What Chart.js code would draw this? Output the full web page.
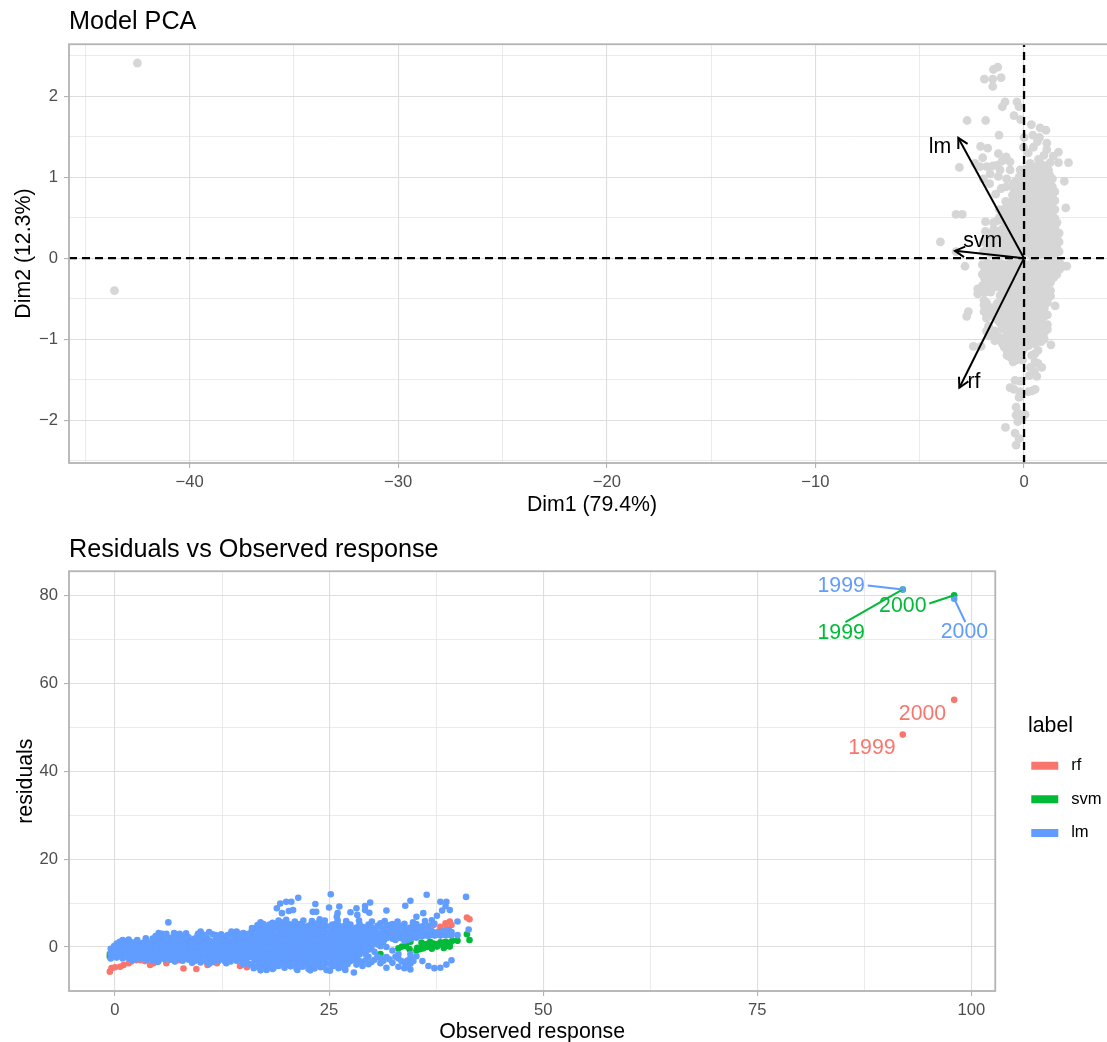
<!DOCTYPE html>
<html><head><meta charset="utf-8">
<style>
html,body{margin:0;padding:0;background:#fff;overflow:hidden;width:1107px;height:1042px}
canvas{position:absolute;left:0}
#c1{top:0}#c2{top:520px}
</style>
<script src="https://cdn.jsdelivr.net/npm/chart.js@4"></script>
</head><body>
<canvas id="c1" width="1115" height="520"></canvas>
<canvas id="c2" width="1107" height="525"></canvas>
<script>
// ---------- Model PCA values ----------
const pcaXMajor=[-40,-30,-20,-10,0];
const pcaXMinor=[-45,-35,-25,-15,-5];
const pcaYMajor=[-2,-1,0,1,2];
const pcaYMinor=[-2.5,-1.5,-0.5,0.5,1.5,2.5];
const pcaOutliers=[[-42.5,2.41],[-43.6,-0.4]];
const pcaUpperScatter=[[-1.26,2.36],[-1.47,2.33],[-1.9,2.21],[-1.5,2.21],[-1.1,2.23],[-1.5,2.12],[-0.91,1.93],[-1.04,1.87],[-0.34,1.93],[-0.24,1.87],[-0.48,1.76],[-0.16,1.71],[-2.73,1.7],[-1.84,1.7],[0.35,1.65],[0.77,1.61],[1.05,1.58],[-1.2,1.52],[0,1.49],[0.42,1.52],[0.74,1.49],[1.09,1.42],[0.64,1.44],[-0.03,1.37],[0.45,1.37],[1.09,1.34],[1.65,1.31],[-2.08,1.38],[-1.74,1.36],[-1.23,1.29],[-0.86,1.25],[-1.98,1.24],[-0.67,1.19],[-1.28,1.15],[2.13,1.18],[1.65,1.18],[1.25,1.18],[0.69,1.22],[-3.1,1.12],[-2.35,1.17],[-2.11,1.13],[-1.79,1.13],[-1.15,1.09],[-0.67,1.09],[-0.19,1.09],[0.29,1.17],[0.77,1.17],[1.17,1.09],[-1.63,1.04],[-1.23,1.01],[-1.95,0.98],[-0.83,0.98],[1.93,0.95],[-1.36,0.79],[-0.86,0.88],[-0.51,0.92],[-3.26,0.54],[-2.96,0.54],[2,0.62],[-1.85,0.45],[-1.47,0.44],[-1.85,0.33],[-4.01,0.2],[-3.26,0.08],[0.2,1.3],[0.95,1.27],[1.4,1.26],[-1.5,1.14],[-1.05,1.2],[-1.65,0.92],[-1.1,0.86]];
const pcaLowerScatter=[[-2.83,-0.1],[1.9,-0.1],[2.05,-0.1],[-2.67,-0.66],[-2.75,-0.72],[1.49,-0.59],[-2.43,-1.09],[-2.06,-1.09],[1.29,-1.07],[0.85,-1.35],[0.61,-1.46],[0.3,-1.35],[0.5,-1.4],[0.25,-1.45],[-0.43,-1.51],[-0.19,-1.52],[-0.67,-1.6],[-0.48,-1.62],[-0.19,-1.65],[0.21,-1.65],[0.53,-1.62],[0.38,-1.64],[-0.24,-1.72],[-0.38,-1.84],[-0.38,-1.94],[0.05,-1.93],[-0.3,-2.02],[-0.89,-2.09],[-0.43,-2.16],[-0.24,-2.23],[-0.38,-2.31],[-0.1,-1.98],[-0.25,-1.92]];
const pcaColumns=[
[-1.95,[0.08,0.2]],[-1.6,[0.05,0.17,0.3]],[-1.3,[0.06,0.16,0.28,0.46]],
[-1.05,[0.05,0.15,0.26,0.36,0.47,0.58]],[-0.72,[0.06,0.16,0.27,0.37,0.47,0.57,0.66]],
[-0.4,[0.03,0.13,0.23,0.33,0.43,0.53,0.63,0.73,0.83,0.95]],
[-0.08,[0.05,0.15,0.25,0.35,0.45,0.55,0.65,0.75,0.85,0.95,1.05]],
[0.25,[0.06,0.16,0.26,0.36,0.46,0.56,0.66,0.76,0.86,0.96,1.06]],
[0.58,[0.04,0.14,0.24,0.34,0.44,0.54,0.64,0.74,0.84,0.94,1.04,1.13]],
[0.9,[0.05,0.15,0.25,0.35,0.45,0.55,0.65,0.75,0.85,0.95,1.05,1.15]],
[1.22,[0.03,0.13,0.23,0.33,0.43,0.53,0.63,0.73,0.83,0.93,1.03]],
[1.48,[0.05,0.16,0.27,0.38,0.49,0.6,0.71,0.82]],[1.68,[0.08,0.2,0.31]],
[-2.0,[-0.08,-0.2,-0.34]],[-2.22,[-0.38,-0.44]],[-1.75,[-0.06,-0.16,-0.26,-0.36]],[-1.92,[-0.52,-0.58,-0.66]],
[-1.45,[-0.07,-0.17,-0.27,-0.36,-0.62,-0.72]],[-1.15,[-0.06,-0.16,-0.26,-0.36,-0.46,-0.8,-0.98]],
[-1.7,[-0.6,-0.68,-0.84,-0.96]],[-1.4,[-1.02,-0.9]],[-0.95,[-0.08,-0.18,-0.28,-0.38,-0.48,-0.58,-0.68,-0.78,-1.0,-1.1]],
[-0.68,[-0.06,-0.16,-0.26,-0.36,-0.46,-0.56,-0.66,-0.76,-0.86,-0.96,-1.06,-1.14,-1.22]],
[-0.38,[-0.07,-0.17,-0.27,-0.37,-0.47,-0.57,-0.67,-0.77,-0.87,-0.97,-1.07,-1.17,-1.26]],
[-0.08,[-0.05,-0.15,-0.25,-0.35,-0.45,-0.55,-0.65,-0.75,-0.85,-0.95,-1.05,-1.15,-1.26]],
[0.22,[-0.08,-0.18,-0.28,-0.38,-0.48,-0.58,-0.68,-0.78,-0.88,-0.98,-1.08]],
[0.52,[-0.06,-0.16,-0.26,-0.36,-0.46,-0.56,-0.66,-0.76,-0.86,-0.96,-1.06,-1.18,-1.28]],
[0.82,[-0.07,-0.17,-0.27,-0.37,-0.47,-0.57,-0.67,-0.77,-0.87,-0.97,-1.03]],
[1.12,[-0.05,-0.15,-0.25,-0.35,-0.45,-0.55,-0.7,-0.82,-0.88]],
[1.42,[-0.06,-0.16,-0.24]],[1.7,[-0.05,-0.14]]
];
const pcaColumnsFill=[
[-1.78,[0.12,0.26]],[-1.45,[0.11,0.23,0.36]],[-1.18,[0.1,0.21,0.33,0.5,0.6]],[-0.88,[0.1,0.2,0.31,0.42,0.52,0.62,0.7]],
[-0.56,[0.1,0.21,0.32,0.42,0.52,0.62,0.7,0.78,0.88]],[-0.24,[0.08,0.18,0.28,0.38,0.48,0.58,0.68,0.78,0.88,1]],
[0.08,[0.1,0.2,0.3,0.4,0.5,0.6,0.7,0.8,0.9,1,1.1]],[0.42,[0.01,0.11,0.21,0.31,0.41,0.51,0.61,0.71,0.81,0.91,1.01,1.11]],
[0.74,[0.09,0.19,0.29,0.39,0.49,0.59,0.69,0.79,0.89,0.99,1.09]],[1.06,[0.1,0.2,0.3,0.4,0.5,0.6,0.7,0.8,0.9,1,1.1]],
[1.36,[0.08,0.18,0.28,0.38,0.48,0.58,0.68,0.78,0.88,0.98]],[1.58,[0.12,0.24,0.44]],
[-1.88,[-0.14,-0.26,-0.42]],[-1.6,[-0.11,-0.21,-0.31,-0.42]],[-1.3,[-0.12,-0.22,-0.32,-0.56,-0.66,-0.76,-0.96]],
[-1.8,[-0.55,-0.62,-0.74,-0.9]],[-1.05,[-0.13,-0.23,-0.33,-0.43,-0.53,-0.63,-0.73,-0.87,-1.05]],
[-0.82,[-0.12,-0.22,-0.32,-0.42,-0.52,-0.62,-0.72,-0.82,-0.92,-1.02,-1.14,-1.2]],
[-0.53,[-0.11,-0.21,-0.31,-0.41,-0.51,-0.61,-0.71,-0.81,-0.91,-1.01,-1.11,-1.22,-1.28]],
[-0.22,[-0.12,-0.22,-0.32,-0.42,-0.52,-0.62,-0.72,-0.82,-0.92,-1.02,-1.12,-1.22]],
[0.07,[-0.1,-0.2,-0.3,-0.4,-0.5,-0.6,-0.7,-0.8,-0.9,-1,-1.1]],[0.37,[-0.13,-0.23,-0.33,-0.43,-0.53,-0.63,-0.73,-0.83,-0.93,-1.03,-1.2]],
[0.67,[-0.11,-0.21,-0.31,-0.41,-0.51,-0.61,-0.71,-0.81,-0.91,-1.01,-1.14,-1.3]],[0.97,[-0.12,-0.22,-0.32,-0.42,-0.52,-0.62,-0.72,-0.92,-1]],
[1.27,[-0.1,-0.2,-0.3,-0.4,-0.47]],[1.57,[-0.1,-0.2]]
];
const arrowTips={lm:[-3.15,1.485],svm:[-3.31,0.09],rf:[-3.1,-1.6]};
const arrowLabels=[['lm',-4.03,1.37],['svm',-1.98,0.21],['rf',-2.4,-1.53]];

// ---------- Residuals values ----------
const resXMajor=[0,25,50,75,100];
const resXMinor=[12.5,37.5,62.5,87.5];
const resYMajor=[0,20,40,60,80];
const resYMinor=[-10,10,30,50,70];
const seriesNames=['rf','svm','lm'];
const legendTitle='label';
const rfResiduals=[[-0.6,-5.6],[-0.4,-4.8],[0,-4.6],[0.6,-4.5],[1,-4.1],[1.6,-3.7],[1.9,-3.3],[2.5,-3],[3,-3],[3.5,-3.2],[4.1,-4.1],[4.5,-3.7],[5,-3],[6,-3.7],[7,-3.2],[7.5,-3],[8,-4.9],[9,-3],[9.5,-5],[10,-3],[10.8,-4.1],[11.9,-3.7],[12,-3],[13,-3.3],[14.6,-4.3],[15.4,-4.6],[18.9,-3.3],[29.4,3.3],[30,3.5],[32.3,3.1],[32.5,3.9],[36.2,4.2],[37.2,5],[37.8,3.5],[38,4.6],[38.6,5.4],[39.1,5.8],[39.3,5],[38.7,4.2],[41.1,6.7],[41.4,6.3],[92,48.3],[98,56.2]];
const svmResiduals=[[-0.6,-1.6],[-0.6,-2.2],[-0.4,-2],[3.4,-0.5],[10.7,1.1],[7.4,1.2],[2.5,1.2],[4.5,0.5],[27.8,0.7],[31.3,1.2],[31,-1.6],[34.5,1.2],[33.1,-0.3],[33.5,0.1],[35.2,-0.8],[35.6,-0.5],[36,-0.3],[36.8,0.1],[37.6,0.1],[38.2,0.5],[38.8,0.3],[39.1,0.1],[36.4,0.7],[37.2,0.8],[38,1.1],[38.6,1.2],[39.1,1],[40,1.4],[41.1,2.9],[41.4,1.6],[35.3,-0.2],[36.4,0],[37,-0.4],[37.5,0.6],[38.4,-0.2],[39,0.6],[36,0.5],[35.8,1],[36.8,1.2],[39.4,1.4],[34.4,-0.5],[34,0.2],[92,81.3],[98,80]];
const lmColumns=[
[-0.5,[-2.6,-1.5,-0.4]],[0.2,[-2.4,-1.2,-0.2,0.8]],[0.9,[-2.6,-1.4,-0.3,0.9,1.6]],[1.6,[-2.5,-1.3,-0.2,0.7,1.7]],
[2.3,[-2.8,-1.6,-0.5,0.6]],[3,[-2.7,-1.4,-0.3,0.8]],[3.7,[-2.9,-1.7,-0.6,0.5,1.2]],[4.4,[-3,-1.8,-0.4,0.9,1.9]],
[5.1,[-3.1,-1.6,-0.3,0.9,2.2,3.2]],[5.8,[-2.8,-1.5,-0.2,1.1,2.4]],[6.5,[-2.9,-1.7,-0.4,0.8,2.1]],[7.2,[-2.7,-1.4,-0.1,1.2,2.8]],
[7.9,[-3.1,-1.8,-0.5,0.9,2.5]],[8.6,[-2.9,-1.6,-0.2,1,2.2]],[9.3,[-3.2,-1.9,-0.6,0.7,1.9]],[10,[-3.5,-2,-0.7,0.6,1.9,3.5]],
[10.7,[-3.3,-1.8,-0.5,0.8,2.1]],[11.4,[-3.4,-2,-0.6,0.9,2.9]],[12.1,[-3.1,-1.7,-0.3,1,2.3]],[12.8,[-3.2,-1.9,-0.6,0.8,2.3]],
[13.5,[-3.3,-1.8,-0.4,1.1,2.9]],[14.2,[-3.1,-1.7,-0.3,1.2,2.6,3.5]],[14.9,[-3.4,-2,-0.5,1,2.4]],[15.6,[-3.8,-2.4,-1,0.4,1.8,3]],
[16.3,[-4.6,-3,-1.6,-0.2,1.2,2.6,4.2]],[17,[-5.3,-3.9,-2.5,-1.1,0.3,1.7,3.1,4.5,5.6]],[17.7,[-5.2,-3.8,-2.4,-1,0.4,1.8,3.2,4.6]],
[18.4,[-5,-3.6,-2.3,-0.9,0.5,1.9,3.3,4.7,5.5]],[19.1,[-4.3,-3,-1.6,-0.3,1.1,2.5,3.9,5.2,6]],[19.8,[-4.7,-3.3,-1.9,-0.5,0.8,2.2,3.6,5]],
[20.5,[-4.4,-3.1,-1.8,-0.4,1,2.3,3.7,5.1]],[21.2,[-4.9,-3.5,-2.1,-0.7,0.7,2.1,3.5,4.9]],[21.9,[-4.5,-3.2,-1.8,-0.4,1,2.4,3.8,4.9]],
[22.6,[-5,-3.6,-2.2,-0.8,0.6,2,3.4,4.8]],[23.3,[-4.9,-3.4,-2,-0.6,0.8,2.2,3.6,4.9]],[24,[-4.6,-3.2,-1.8,-0.4,1,2.4,3.8,5.3]],
[24.7,[-5.2,-3.7,-2.3,-0.9,0.5,1.9,3.3,4.7]],[25.4,[-4.4,-3,-1.6,-0.2,1.2,2.6,4,5.1]],[26.1,[-4.8,-3.4,-2,-0.6,0.8,2.2,3.6,5]],
[26.8,[-4.9,-3.3,-1.9,-0.5,0.9,2.3,3.7,4.8]],[27.5,[-3.2,-1.8,-0.4,1,2.4,3.8,5.1]],[28.2,[-4,-2.4,-1.2,0.2,1.6,3,4.4]],
[28.9,[-4.3,-3.5,-1,0.4,1.8,3.2,4.6]],[29.6,[-3.9,-2.2,-0.6,0.8,2.2,3.6,5.1]],[30.3,[-2.9,-1.1,1,2.4,3.8]],
[31,[-3.7,-2.5,0.2,1.8,3,4.6,5.4]],[31.7,[-4.7,-2.3,0,2,3.3,4.9]],[32.4,[-3.6,-0.8,1.9,4.2,5.2]],[33.1,[-4.5,-2.6,-1.6,2.2,3.4,4.7]],
[33.8,[-4.8,-3.5,1.4,2.6,4,5.3]],[34.5,[-5.1,-3.8,-2.5,-1.6,1.9,3.1,4.4]],[35.2,[-2.1,2.1,2.8,4.3,5.2]],[35.9,[-3.2,2.5,3.2,4.7]],
[36.6,[-4.3,2.5,3.2,4.8]],[37.3,[-4.8,2.6,3.3,5.3]],[38,[-4.7,2.6,3.4]],[38.7,[-4,2.7,3.3]],[39.3,[-3,2.7,3.4]]
];
const lmColumnsFill=[
[-0.1,[-2,-0.9,0.2]],[0.55,[-1.9,-0.8,0.3,1.2]],[1.25,[-2,-0.8,0.3,1.3]],[1.95,[-2.1,-0.9,0.1,1.1]],[2.65,[-2.2,-1,0.1]],[3.35,[-2.1,-0.9,0.2,1]],
[4.05,[-2.4,-1.2,0,0.9]],[4.75,[-2.5,-1.1,0.2,1.4,2.5]],[5.45,[-2.3,-1,0.3,1.6]],[6.15,[-2.2,-1.1,0.2,1.4]],[6.85,[-2.3,-1,0.4,1.8]],[7.55,[-2.5,-1.2,0.2,1.6,3]],
[8.25,[-2.2,-1,0.3,1.6]],[8.95,[-2.6,-1.2,0.1,1.3]],[9.65,[-2.8,-1.3,0,1.2,2.6]],[10.35,[-2.7,-1.2,0.1,1.4,2.8]],[11.05,[-2.6,-1.2,0.2,1.5]],[11.75,[-2.5,-1,0.3,1.7,2.7]],
[12.45,[-2.6,-1.2,0.2,1.6]],[13.15,[-2.5,-1.1,0.3,1.7,2.7]],[13.85,[-2.6,-1,0.4,1.9]],[14.55,[-2.4,-1.2,0.3,1.8,3]],[15.25,[-3.2,-1.7,-0.2,1.2,2.7]],[15.95,[-4,-2.2,-0.9,0.5,1.9,3.5]],
[16.65,[-4.4,-3.2,-1.8,-0.4,1,2.4,3.8,5]],[17.35,[-4.6,-3.1,-1.7,-0.3,1.1,2.5,3.9,5.2]],[18.05,[-4.4,-3,-1.6,-0.2,1.2,2.6,4,5.1]],[18.75,[-4.3,-2.9,-1.5,-0.2,1.2,2.6,4,5.2]],
[19.45,[-3.7,-2.3,-1,0.4,1.8,3.2,4.6,5.6]],[20.15,[-4,-2.6,-1.2,0.2,1.5,2.9,4.3,5.3]],[20.85,[-3.8,-2.4,-1,0.3,1.7,3,4.4]],[21.55,[-4.2,-2.8,-1.4,0,1.4,2.8,4.2,5.2]],
[22.25,[-3.9,-2.5,-1.1,0.3,1.7,3.1,4.5]],[22.95,[-4.3,-2.8,-1.4,0,1.4,2.8,4.2,5.3]],[23.65,[-4,-2.6,-1.2,0.2,1.6,3,4.5,5.4]],[24.35,[-4.5,-3,-1.6,-0.2,1.2,2.6,4,5]],
[25.05,[-3.8,-2.4,-1,0.4,1.8,3.2,4.6]],[25.75,[-4.2,-2.7,-1.3,0.1,1.5,2.9,4.3,5.2]],[26.45,[-4.3,-2.7,-1.3,0.1,1.5,2.9,4.3]],[27.15,[-3.9,-2.5,-1.1,0.3,1.7,3.1,4.5,5.3]],
[27.85,[-2.9,-1.5,-0.1,1.3,2.7,4.1]],[28.55,[-3.2,-1.7,-0.3,1.1,2.5,3.9,5.2]],[29.25,[-3,-1.6,0.1,1.5,2.9,4.3]],[29.95,[-3.4,-0.2,1.6,3,4.5]],[30.65,[-2.2,0.6,2,3.3,4.8]],[31.35,[-3.1,1.3,2.6,4]],
[32.05,[-2.8,2.6,3.7,5]],[32.75,[-2.2,1.6,2.9,4.4]],[33.45,[-3.2,2,3.3,4.8]],[34.15,[-4.4,-3.1,1.6,2.9,4.2]],[34.85,[-3.2,2.3,3.5,4.8]],[35.55,[2.5,3.3,4.4]],[36.25,[2.7,3.5]],[36.95,[2.8,3.7]],[37.65,[2.8]],[38.35,[2.8,3.6]],[39,[2.8,3.8]]
];
const lmScatter=[[6.23,5.6],[18.9,8.8],[19.3,9.9],[20,10.3],[20.6,10.3],[19.5,7.7],[20.3,8.2],[20.8,8.4],[21.4,11.2],[25.2,12],[36.4,11.9],[41,11.4],[23.4,9.8],[23.1,8],[23.5,8],[25,9],[26.2,9.2],[23.9,6.3],[26,7.7],[25.9,6.9],[27.5,7.9],[28.2,8.8],[28.3,7.3],[29.2,9.3],[29.8,10.1],[29.2,8.4],[29.7,7.8],[31.7,8.3],[33.9,9.4],[34.5,10.5],[38,10.3],[38.7,10.3],[38.6,9.3],[38.2,8.3],[39.1,8.4],[36,7.7],[35.2,6.9],[37.6,7.1],[40,5.8],[41.3,4],[40,2.7],[18.5,-4.8],[25.1,-5.4],[26.9,-5.2],[27.9,-5.8],[21.3,-5.2],[22.8,-5.3],[92,81.3],[98,79.2],
[31.5,5.9],[33,5.8],[34.8,5.6],[36.2,5.9],[37,6.1],[30,5.8],[28.5,6],[27,5.9],[26,6.1],[24.5,6],[23,5.9],[22,6],[21,5.8],[20,6.2],
[5.5,3],[6.9,3.2],[8.3,3.1],[9.7,3],[11,3.4],[12.4,2.9],[13.6,3.5],[15,3.2],[16,4.3],[3.6,2],[2.6,1.6],[6,3],
[2,-3],[5,-3.4],[7,-3.3],[9,-3.6],[11,-3.8],[13,-3.7],[15,-3.9],[16.2,-4.8]];
// labels of the extreme observations and the segments joining them
const extremeLabels=[['1999',84.8,82,2],['1999',84.8,71.4,1],['2000',92,77.6,1],['2000',99.2,71.6,2],['2000',94.3,53,0],['1999',88.4,45.3,0]];
const connectors=[[[87.9,82.2],[92,81.3],2],[[85.3,73.9],[92,81.3],1],[[95.1,78.1],[98,80],1],[[99.3,73.9],[98,79.2],2]];
const palette=['#F8766D','#00BA38','#619CFF'];

const FONT='"Liberation Sans", Arial, sans-serif';
const pt=p=>({x:p[0],y:p[1]});
const expand=cols=>cols.flatMap(c=>c[1].map(y=>({x:c[0],y})));
const minusFmt=v=>String(v).replace('-','\u2212');
function axis(min,max,major,minor,title,titlePad,size,isX){
  return {type:'linear',min,max,
    afterBuildTicks:s=>{s.ticks=[...major,...minor].sort((a,b)=>a-b).map(value=>({value}));},
    afterFit:s=>{if(isX)s.height=size;else s.width=size;s.paddingLeft=s.paddingRight=s.paddingTop=s.paddingBottom=0;},
    border:{display:false},
    grid:{drawTicks:true,tickLength:5,
      color:()=>'#dedede',
      lineWidth:c=>major.includes(c.tick.value)?1.1:0.6,
      tickColor:c=>major.includes(c.tick.value)?'#b3b3b3':'rgba(0,0,0,0)',
      tickWidth:()=>1.1},
    ticks:{autoSkip:false,maxRotation:0,padding:isX?4:6,color:'#4d4d4d',font:{family:FONT,size:16.6},
      callback:v=>major.includes(v)?minusFmt(v):''},
    title:{display:true,text:title,color:'#000',font:{family:FONT,size:21.3},padding:titlePad}};
}
const panelBorder={id:'panelBorder',afterDatasetsDraw(ch){const a=ch.chartArea,c=ch.ctx;c.save();c.strokeStyle='#b3b3b3';c.lineWidth=1.8;c.strokeRect(a.left,a.top,a.right-a.left,a.bottom-a.top);c.restore();}};
const textLabels=(rows,colorOf)=>({id:'textLabels',afterDatasetsDraw(ch){const c=ch.ctx,X=ch.scales.x,Y=ch.scales.y;c.save();c.font='21.3px '+FONT;c.textAlign='center';c.textBaseline='middle';
  rows.forEach(r=>{c.fillStyle=colorOf(r);c.fillText(r[0],X.getPixelForValue(r[1]),Y.getPixelForValue(r[2]));});c.restore();}});
const arrowHeads={id:'arrowHeads',afterDatasetsDraw(ch){const c=ch.ctx,X=ch.scales.x,Y=ch.scales.y,ox=X.getPixelForValue(0),oy=Y.getPixelForValue(0);c.save();c.strokeStyle='#000';c.lineWidth=2;
  Object.values(arrowTips).forEach(t=>{const px=X.getPixelForValue(t[0]),py=Y.getPixelForValue(t[1]),an=Math.atan2(oy-py,ox-px),L=11,w=0.5;c.beginPath();c.moveTo(px+L*Math.cos(an-w),py+L*Math.sin(an-w));c.lineTo(px,py);c.lineTo(px+L*Math.cos(an+w),py+L*Math.sin(an+w));c.stroke();});c.restore();}};
// keeps the gap between the panel and the legend; the legend title sits slightly left of its keys
const legendGap={id:'legendGap',beforeInit(ch){Chart.layouts.addBox(ch,{position:'right',weight:500,fullSize:false,options:{},isHorizontal:()=>false,update(w,h){this.width=19;this.height=h;},draw(){}});},
  afterDraw(ch){const c=ch.ctx;c.save();c.font='21.3px '+FONT;c.fillStyle='#000';c.textBaseline='middle';c.fillText(legendTitle,1028,206);c.restore();}};

const pcaAll=[...pcaOutliers.map(pt),...pcaUpperScatter.map(pt),...pcaLowerScatter.map(pt),...expand(pcaColumns),...expand(pcaColumnsFill)];
const pX=[-45.78,4.36],pY=[-2.53,2.642];
const seg=(a,b,color,w,dash,order)=>({type:'scatter',label:'',data:[a,b],showLine:true,borderColor:color,borderWidth:w,borderDash:dash||[],pointRadius:0,backgroundColor:color,order});
new Chart(document.getElementById('c1'),{type:'scatter',
  data:{datasets:[
    seg({x:pX[0],y:0},{x:pX[1],y:0},'#000',2.3,[8,5],3),
    seg({x:0,y:pY[0]},{x:0,y:pY[1]},'#000',2.3,[8,5],3),
    ...Object.values(arrowTips).map(t=>seg({x:0,y:0},{x:t[0],y:t[1]},'#000',2,null,1)),
    {label:'pca',data:pcaAll,backgroundColor:'#d6d6d6',borderWidth:0,pointRadius:4.4,pointHoverRadius:4.4,order:5}
  ]},
  plugins:[panelBorder,arrowHeads,textLabels(arrowLabels,()=>'#000')],
  options:{responsive:false,animation:false,events:[],
    layout:{padding:0,autoPadding:false},
    plugins:{legend:{display:false},tooltip:{enabled:false},
      title:{display:true,text:'Model PCA',align:'start',fullSize:false,color:'#000',font:{family:FONT,size:25.2,weight:'normal'},padding:{top:7,bottom:7}}},
    scales:{
      x:axis(pX[0],pX[1],pcaXMajor,pcaXMinor,'Dim1 (79.4%)',{top:0,bottom:2},57,true),
      y:axis(pY[0],pY[1],pcaYMajor,pcaYMinor,'Dim2 (12.3%)',{top:11,bottom:0},69,false)
    }}});

const lmAll=[...expand(lmColumns),...expand(lmColumnsFill),...lmScatter.map(pt)];
const seriesData=[rfResiduals.map(pt),svmResiduals.map(pt),lmAll];
const rX=[-5.37,102.8],rY=[-10,85.45];
new Chart(document.getElementById('c2'),{type:'scatter',
  data:{datasets:[
    ...seriesNames.map((n,i)=>({label:n,data:seriesData[i],backgroundColor:palette[i],borderColor:palette[i],borderWidth:0,pointRadius:3.3,pointHoverRadius:3.3,order:5-i})),
    ...connectors.map(k=>seg(pt(k[0]),pt(k[1]),palette[k[2]],2,null,1))
  ]},
  plugins:[panelBorder,legendGap,textLabels(extremeLabels,r=>palette[r[3]])],
  options:{responsive:false,animation:false,events:[],
    layout:{padding:{right:-4.6},autoPadding:false},
    plugins:{tooltip:{enabled:false},
      legend:{position:'right',align:'center',
        title:{display:true,text:' ',position:'start',font:{family:FONT,size:21.3},padding:{top:11,bottom:-3}},
        labels:{boxWidth:27,boxHeight:8,padding:17,color:'#000',font:{family:FONT,size:16.6},
          generateLabels:ch=>Chart.defaults.plugins.legend.labels.generateLabels(ch).filter(i=>seriesNames.includes(i.text)).map(i=>({...i,text:' '+i.text})),
          sort:(a,b)=>a.datasetIndex-b.datasetIndex}},
      title:{display:true,text:'Residuals vs Observed response',align:'start',fullSize:false,color:'#000',font:{family:FONT,size:25.2,weight:'normal'},padding:{top:15,bottom:6}}},
    scales:{
      x:axis(rX[0],rX[1],resXMajor,resXMinor,'Observed response',{top:0,bottom:0},54,true),
      y:axis(rY[0],rY[1],resYMajor,resYMinor,'residuals',{top:13,bottom:0},69,false)
    }}});
</script>
</body></html>
